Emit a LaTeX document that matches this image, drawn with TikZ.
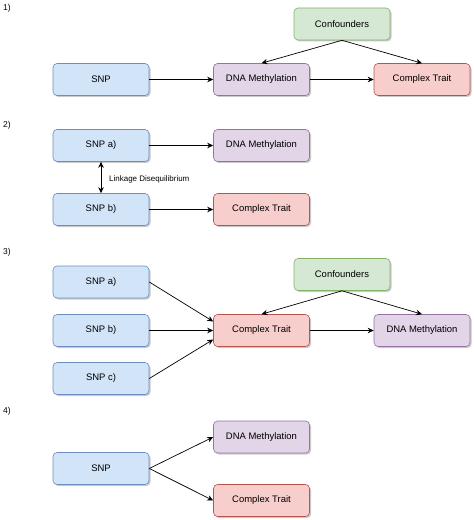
\documentclass[tikz,border=0pt]{standalone}
\usepackage{fontspec}
\setmainfont{Liberation Sans}
\usetikzlibrary{arrows.meta,calc,shadows}
\definecolor{bfill}{HTML}{D2E4F8}
\definecolor{bdraw}{HTML}{6C8EBF}
\definecolor{pfill}{HTML}{E1D5E7}
\definecolor{pdraw}{HTML}{9673A6}
\definecolor{rfill}{HTML}{F8CECC}
\definecolor{rdraw}{HTML}{B85450}
\definecolor{gfill}{HTML}{D5E8D4}
\definecolor{gdraw}{HTML}{82B366}
\tikzset{
  box/.style={rectangle, rounded corners=4bp, minimum width=96bp, minimum height=32bp,
    line width=0.6bp, font=\fontsize{9.5}{11}\selectfont, inner sep=0pt,
    drop shadow={shadow xshift=1.5bp, shadow yshift=-1.5bp, fill=black!35, opacity=0.6}},
  bluebox/.style={box, fill=bfill, draw=bdraw},
  purplebox/.style={box, fill=pfill, draw=pdraw},
  redbox/.style={box, fill=rfill, draw=rdraw},
  greenbox/.style={box, fill=gfill, draw=gdraw},
  conn/.style={line width=0.7bp, -{Stealth[length=6bp,width=5.5bp]}},
  panellabel/.style={font=\fontsize{8.5}{10}\selectfont, anchor=west, inner sep=0pt},
  edgelabel/.style={font=\fontsize{8}{9.5}\selectfont, anchor=west, inner sep=0pt}
}
\begin{document}
\begin{tikzpicture}[x=1bp,y=-1bp]
\useasboundingbox (0,0) rectangle (474,520);
% Panel 1
\node[panellabel] (l1) at (3,8) {1)};
\node[greenbox] (conf1) at (342,24) {Confounders};
\node[bluebox] (snp1) at (101,79.5) {SNP};
\node[purplebox] (dna1) at (261.5,79.5) {DNA Methylation};
\node[redbox] (ct1) at (422,79.5) {Complex Trait};
\draw[conn] (snp1.east) -- (dna1.west);
\draw[conn] (dna1.east) -- (ct1.west);
\draw[conn] (conf1.south) -- (dna1.north);
\draw[conn] (conf1.south) -- (ct1.north);
% Panel 2
\node[panellabel] (l2) at (3,125) {2)};
\node[bluebox] (snp2a) at (101,145.5) {SNP a)};
\node[purplebox] (dna2) at (261.5,145.5) {DNA Methylation};
\node[bluebox] (snp2b) at (101,209.5) {SNP b)};
\node[redbox] (ct2) at (261.5,209.5) {Complex Trait};
\draw[conn] (snp2a.east) -- (dna2.west);
\draw[conn] (snp2b.east) -- (ct2.west);
\draw[line width=0.7bp, {Stealth[length=6bp,width=5.5bp]}-{Stealth[length=6bp,width=5.5bp]}] (snp2a.south) -- (snp2b.north);
\node[edgelabel] (ld) at (109,179) {Linkage Disequilibrium};
% Panel 3
\node[panellabel] (l3) at (3,252) {3)};
\node[greenbox] (conf3) at (342,274.5) {Confounders};
\node[bluebox] (snp3a) at (101,282) {SNP a)};
\node[bluebox] (snp3b) at (101,330.5) {SNP b)};
\node[bluebox] (snp3c) at (101,378.5) {SNP c)};
\node[redbox] (ct3) at (261.5,330.5) {Complex Trait};
\node[purplebox] (dna3) at (422,330.5) {DNA Methylation};
\draw[conn] (snp3a.east) -- ($(ct3.west)+(0,-9)$);
\draw[conn] (snp3b.east) -- (ct3.west);
\draw[conn] (snp3c.east) -- ($(ct3.west)+(0,9)$);
\draw[conn] (ct3.east) -- (dna3.west);
\draw[conn] (conf3.south) -- (ct3.north);
\draw[conn] (conf3.south) -- (dna3.north);
% Panel 4
\node[panellabel] (l4) at (3,411) {4)};
\node[purplebox] (dna4) at (261.5,437) {DNA Methylation};
\node[bluebox] (snp4) at (101,468.5) {SNP};
\node[redbox] (ct4) at (261.5,500.5) {Complex Trait};
\draw[conn] (snp4.east) -- (dna4.west);
\draw[conn] (snp4.east) -- (ct4.west);
\end{tikzpicture}
\end{document}
